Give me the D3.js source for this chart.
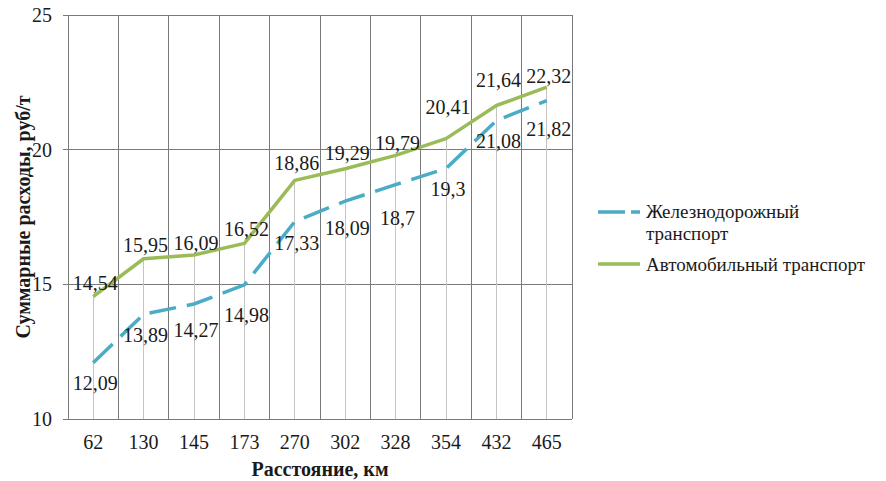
<!DOCTYPE html>
<html><head><meta charset="utf-8">
<script src="https://cdn.jsdelivr.net/npm/d3@7"></script>
<style>
html body svg text, svg#c text { font-family: "Liberation Serif", "Times New Roman", Tinos, serif !important; }
</style>
</head><body style="margin:0"><svg id="c" width="886" height="481" font-family="Liberation Serif"></svg>
<script>
const categories = ["62","130","145","173","270","302","328","354","432","465"];
const railValues = [12.09,13.89,14.27,14.98,17.33,18.09,18.7,19.3,21.08,21.82];
const autoValues = [14.54,15.95,16.09,16.52,18.86,19.29,19.79,20.41,21.64,22.32];
const yTicks = [10,15,20,25];
const seriesNames = ["Железнодорожный транспорт","Автомобильный транспорт"];
// label nudges (layout only)
const autoLabelNudge = [0,0,2,0,-3,-2,2,-18,-11,3];
const railLabelNudge = [-3,-2,3,7,-2,4,10,-3,-3,5];

const svg = d3.select("#c");
const m = {l:68, r:572, t:15, b:419};
const x = d3.scaleBand().domain(categories).range([m.l, m.r]).padding(0);
const y = d3.scaleLinear().domain([10,25]).range([m.b, m.t]);
const cx = d => x(d) + x.bandwidth()/2;
const txt = (sel, size, bold) => {
  sel.attr("font-family", "Liberation Serif").style("font-family", '"Liberation Serif"')
     .attr("font-size", size).attr("fill","#1a1a1a");
  if (bold) sel.attr("font-weight","bold");
  return sel;
};

svg.append("g").selectAll("line").data(yTicks).join("line")
  .attr("x1", m.l-5).attr("x2", m.r).attr("y1", d=>y(d)).attr("y2", d=>y(d))
  .attr("stroke", "#7a7a7a").attr("stroke-width", 1).attr("shape-rendering","crispEdges");
const bounds = categories.map(c => x(c)).concat([m.r]);
svg.append("g").selectAll("line").data(bounds).join("line")
  .attr("x1", d=>d).attr("x2", d=>d).attr("y1", m.t).attr("y2", m.b)
  .attr("stroke", "#7a7a7a").attr("stroke-width", 1).attr("shape-rendering","crispEdges");
svg.append("g").selectAll("line").data(categories).join("line")
  .attr("x1", d=>cx(d)).attr("x2", d=>cx(d))
  .attr("y1", (d,i)=>y(autoValues[i])).attr("y2", m.b)
  .attr("stroke", "#c4c4c4").attr("stroke-width", 1).attr("shape-rendering","crispEdges");

txt(svg.append("g").selectAll("text").data(yTicks).join("text")
  .attr("x", 52).attr("y", d=>y(d)+7).attr("text-anchor","end"), 20).text(d=>d);
txt(svg.append("g").selectAll("text").data(categories).join("text")
  .attr("x", d=>cx(d)).attr("y", 449).attr("text-anchor","middle"), 20).text(d=>d);

txt(svg.append("text").attr("transform", `translate(30,${(m.t+m.b)/2}) rotate(-90)`)
  .attr("text-anchor","middle"), 20, true)
  .text("Суммарные расходы, руб/т");
txt(svg.append("text").attr("x", (m.l+m.r)/2).attr("y", 476).attr("text-anchor","middle"), 20, true)
  .text("Расстояние, км");

const line = d3.line().x((d,i)=>cx(categories[i])).y(d=>y(d));
const railColor = "#4bacc6", autoColor = "#9bbb59";
svg.append("path").datum(railValues).attr("d", line).attr("fill","none")
  .attr("stroke", railColor).attr("stroke-width", 3.5).attr("stroke-dasharray","27,11");
svg.append("path").datum(autoValues).attr("d", line).attr("fill","none")
  .attr("stroke", autoColor).attr("stroke-width", 3.5).attr("stroke-linejoin","round");

const fmt = v => String(v).replace(".", ",");
txt(svg.append("g").selectAll("text").data(autoValues).join("text")
  .attr("x",(d,i)=>cx(categories[i])+2).attr("y",(d,i)=>y(d)-7+autoLabelNudge[i])
  .attr("text-anchor","middle"), 20).text(fmt);
txt(svg.append("g").selectAll("text").data(railValues).join("text")
  .attr("x",(d,i)=>cx(categories[i])+2).attr("y",(d,i)=>y(d)+30+railLabelNudge[i])
  .attr("text-anchor","middle"), 20).text(fmt);

const lg = svg.append("g");
lg.append("line").attr("x1",598).attr("x2",640).attr("y1",212).attr("y2",212)
  .attr("stroke", railColor).attr("stroke-width",3.5).attr("stroke-dasharray","27,6");
txt(lg.append("text").attr("x",646).attr("y",218), 19).text("Железнодорожный");
txt(lg.append("text").attr("x",646).attr("y",240), 19).text("транспорт");
lg.append("line").attr("x1",598).attr("x2",640).attr("y1",264).attr("y2",264)
  .attr("stroke", autoColor).attr("stroke-width",3.5);
txt(lg.append("text").attr("x",646).attr("y",271), 19).text("Автомобильный транспорт");
</script></body></html>
